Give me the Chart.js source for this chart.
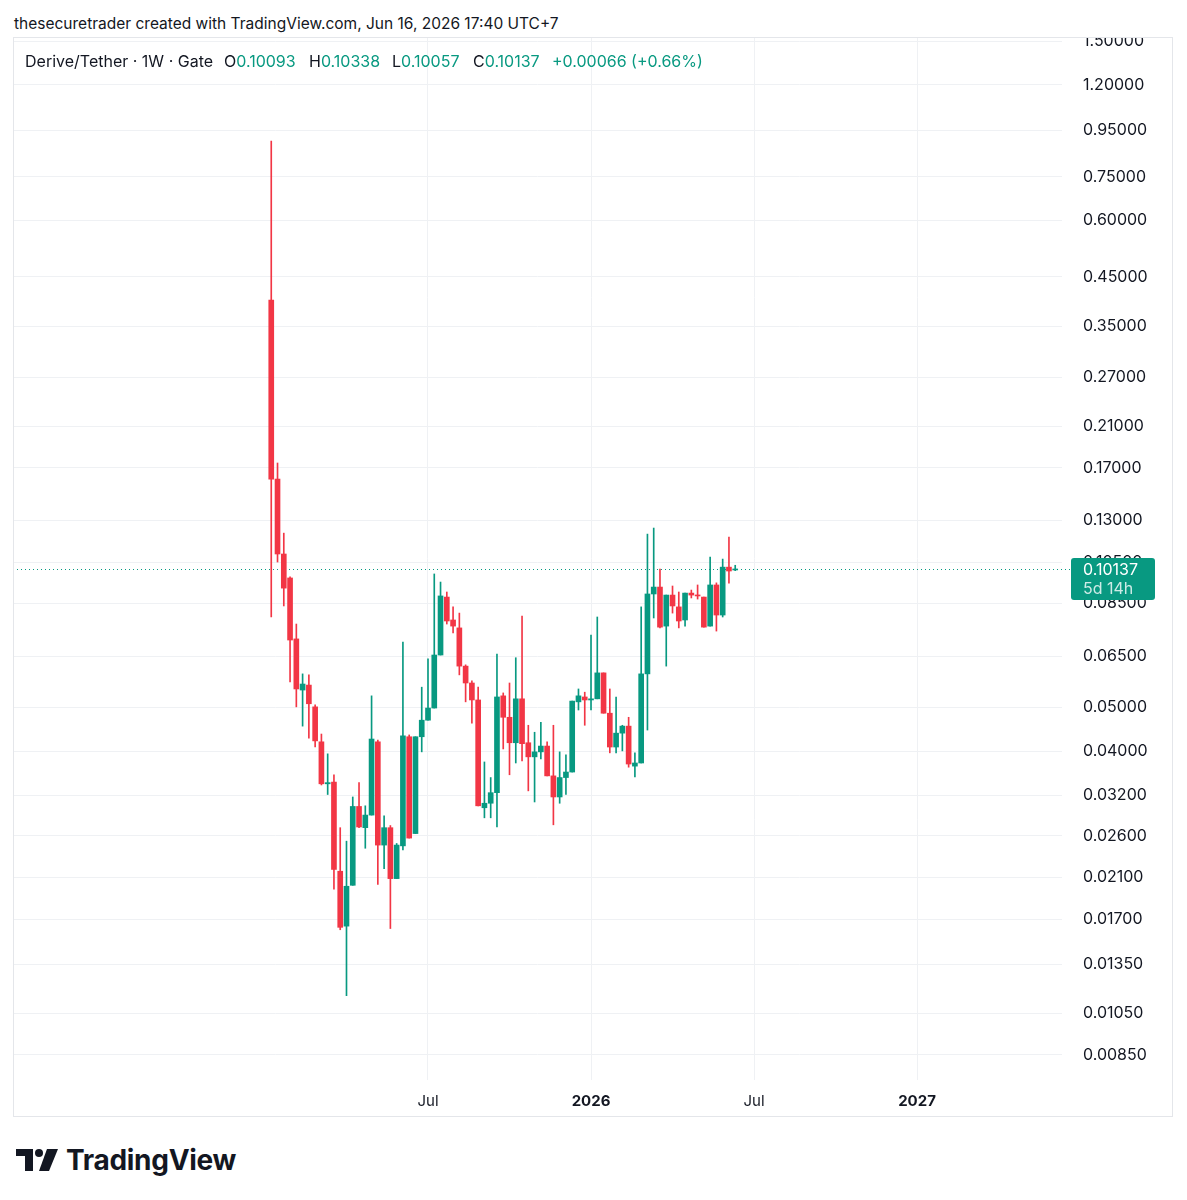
<!DOCTYPE html>
<html>
<head>
<meta charset="utf-8">
<script src="https://cdn.jsdelivr.net/npm/chart.js@4.4.0/dist/chart.umd.min.js"></script>
<style>
  body { margin: 0; background: #fff; width: 1187px; height: 1200px; position: relative; font-family: Inter, "Noto Sans", sans-serif; color: #131722; }
  .abs { position: absolute; white-space: nowrap; }
  #header { left: 14px; top: 13px; font-size: 15.5px; line-height: 22px; }
  #frame { left: 13px; top: 37px; width: 1160px; height: 1080px; box-sizing: border-box; border: 1px solid #e4e6ea; pointer-events: none; }
  #wrap { left: 13px; top: 37px; width: 1160px; height: 1080px; }
  .lg { top: 50px; font-size: 16px; line-height: 22px; }
  .g { color: #089981; }
  #brand { left: 66px; top: 1140px; font-size: 28px; font-weight: 700; line-height: 40px; letter-spacing: -0.3px; }
</style>
</head>
<body>
<div id="header" class="abs">thesecuretrader created with TradingView.com, Jun 16, 2026 17:40 UTC+7</div>
<div id="wrap" class="abs"><canvas id="c" width="1160" height="1080"></canvas></div>
<div id="frame" class="abs"></div>

<div class="abs lg" style="left:25px">Derive/Tether · 1W · Gate</div>
<div class="abs lg" style="left:224px">O<span class="g">0.10093</span></div>
<div class="abs lg" style="left:309px">H<span class="g">0.10338</span></div>
<div class="abs lg" style="left:392px">L<span class="g">0.10057</span></div>
<div class="abs lg" style="left:473px">C<span class="g">0.10137</span></div>
<div class="abs lg g" style="left:552px">+0.00066 (+0.66%)</div>

<svg class="abs" style="left:14px;top:1146px" width="46" height="28" viewBox="0 0 46 28">
  <path d="M2 3 H19 V25 H11 V10 H2 Z" fill="#131722"/>
  <circle cx="25" cy="7" r="4" fill="#131722"/>
  <path d="M33 3 H44 L35 25 H25 Z" fill="#131722"/>
</svg>
<div id="brand" class="abs">TradingView</div>

<script>
// weekly candles, Derive/Tether on Gate, week of Jan 13 2025 -> week of Jun 15 2026
const opens = [0.400, 0.1605, 0.1095, 0.0969, 0.0710, 0.0547, 0.0561, 0.0502, 0.0420, 0.0339,
  0.0342, 0.0217, 0.0164, 0.0202, 0.0302, 0.0271, 0.0289, 0.0420, 0.0248, 0.0271,
  0.0209, 0.0247, 0.0431, 0.0263, 0.0431, 0.0469, 0.0499, 0.0654, 0.0879, 0.0782,
  0.0751, 0.0618, 0.0567, 0.0520, 0.0300, 0.0307, 0.0324, 0.0531, 0.0476, 0.0418,
  0.0523, 0.0418, 0.0389, 0.0399, 0.0411, 0.0353, 0.0317, 0.0350, 0.0360, 0.0515,
  0.0528, 0.0520, 0.0523, 0.0597, 0.0486, 0.0409, 0.0439, 0.0455, 0.0371, 0.0377,
  0.0594, 0.0893, 0.0925, 0.0758, 0.0888, 0.0836, 0.0782, 0.0897, 0.0888, 0.0879,
  0.0758, 0.0935, 0.0802, 0.1024, 0.10093];
const highs = [0.900, 0.1742, 0.1218, 0.0974, 0.0766, 0.0594, 0.0591, 0.0507, 0.0437, 0.0395,
  0.0355, 0.0271, 0.0253, 0.0317, 0.0341, 0.0303, 0.0531, 0.0424, 0.0288, 0.0274,
  0.0250, 0.0699, 0.0435, 0.0431, 0.0555, 0.0641, 0.0989, 0.0949, 0.0902, 0.0836,
  0.0810, 0.0622, 0.0573, 0.0555, 0.0379, 0.0350, 0.0657, 0.0539, 0.0567, 0.0645,
  0.0798, 0.0457, 0.0441, 0.0464, 0.0420, 0.0457, 0.0399, 0.0393, 0.0517, 0.0550,
  0.0541, 0.0724, 0.0794, 0.0597, 0.0550, 0.0528, 0.0457, 0.0476, 0.0397, 0.0836,
  0.1212, 0.1250, 0.1014, 0.0888, 0.0930, 0.0902, 0.0897, 0.0911, 0.0935, 0.0879,
  0.1078, 0.0945, 0.1067, 0.1194, 0.10338];
const lows = [0.0794, 0.1051, 0.0840, 0.0570, 0.0502, 0.0455, 0.0428, 0.0409, 0.0337, 0.0321,
  0.0198, 0.0161, 0.0115, 0.0202, 0.0271, 0.0244, 0.0289, 0.0203, 0.0220, 0.0162,
  0.0209, 0.0242, 0.0257, 0.0263, 0.0399, 0.0469, 0.0499, 0.0654, 0.0766, 0.0732,
  0.0591, 0.0515, 0.0462, 0.0303, 0.0285, 0.0285, 0.0272, 0.0405, 0.0355, 0.0377,
  0.0381, 0.0327, 0.0309, 0.0385, 0.0353, 0.0275, 0.0307, 0.0321, 0.0360, 0.0494,
  0.0457, 0.0494, 0.0523, 0.0486, 0.0397, 0.0397, 0.0401, 0.0369, 0.0351, 0.0377,
  0.0446, 0.0790, 0.0751, 0.0618, 0.0810, 0.0751, 0.0758, 0.0875, 0.0870, 0.0754,
  0.0758, 0.0739, 0.0794, 0.0944, 0.10057];
const closes = [0.1605, 0.1095, 0.0920, 0.0706, 0.0550, 0.0564, 0.0510, 0.0422, 0.0339, 0.0341,
  0.0219, 0.0163, 0.0201, 0.0302, 0.0272, 0.0289, 0.0426, 0.0248, 0.0271, 0.0209,
  0.0248, 0.0433, 0.0257, 0.0431, 0.0469, 0.0499, 0.0654, 0.0884, 0.0778, 0.0758,
  0.0618, 0.0567, 0.0520, 0.0303, 0.0307, 0.0324, 0.0528, 0.0476, 0.0418, 0.0523,
  0.0416, 0.0389, 0.0399, 0.0411, 0.0353, 0.0317, 0.0350, 0.0360, 0.0517, 0.0531,
  0.0520, 0.0523, 0.0597, 0.0486, 0.0409, 0.0439, 0.0455, 0.0375, 0.0377, 0.0594,
  0.0893, 0.0925, 0.0754, 0.0888, 0.0840, 0.0778, 0.0897, 0.0888, 0.0884, 0.0754,
  0.0935, 0.0802, 0.1024, 0.1004, 0.10137];

// time axis: bar index of the first weekly bar in each labelled period
const xTickPos = [25, 51, 77, 103];
const xTickLabels = ['Jul', '2026', 'Jul', '2027'];
const xYearTicks = [51, 103];

const yTickVals = [1.5, 1.2, 0.95, 0.75, 0.6, 0.45, 0.35, 0.27, 0.21, 0.17, 0.13, 0.105,
  0.085, 0.065, 0.05, 0.04, 0.032, 0.026, 0.021, 0.017, 0.0135, 0.0105, 0.0085];

const lastClose = 0.10137;
const countdown = '5d 14h';

const UP = '#089981', DOWN = '#F23645';
const colors = opens.map((o, i) => closes[i] >= o ? UP : DOWN);

const priceLine = {
  id: 'priceLine',
  beforeDatasetsDraw(chart) {
    const { ctx, chartArea } = chart;
    const y = Math.round(chart.scales.y.getPixelForValue(lastClose)) + 0.5;
    ctx.save();
    ctx.strokeStyle = UP;
    ctx.lineWidth = 1;
    ctx.setLineDash([1, 3]);
    ctx.beginPath();
    ctx.moveTo(chartArea.left, y);
    ctx.lineTo(chartArea.right + 9, y);
    ctx.stroke();
    ctx.restore();
  },
  afterDraw(chart) {
    const { ctx, chartArea } = chart;
    const y = chart.scales.y.getPixelForValue(lastClose);
    const x0 = chartArea.right + 9;
    ctx.save();
    ctx.fillStyle = UP;
    ctx.beginPath();
    ctx.roundRect(x0, y - 11, 84, 42, 3);
    ctx.fill();
    ctx.font = '16px Inter, sans-serif';
    ctx.textBaseline = 'middle';
    ctx.fillStyle = '#ffffff';
    ctx.fillText(lastClose.toFixed(5), chartArea.right + 21, y + 1);
    ctx.fillStyle = 'rgba(255,255,255,0.8)';
    ctx.fillText(countdown, chartArea.right + 21, y + 20);
    ctx.restore();
  }
};

new Chart(document.getElementById('c'), {
  type: 'bar',
  data: {
    datasets: [
      {
        label: 'wick',
        data: lows.map((l, i) => ({ x: i, y: [l, highs[i]] })),
        backgroundColor: colors,
        barThickness: 1,
        grouped: false,
        order: 2
      },
      {
        label: 'body',
        data: opens.map((o, i) => ({ x: i, y: [o, closes[i]] })),
        backgroundColor: colors,
        barThickness: 5,
        minBarLength: 1,
        grouped: false,
        order: 1
      }
    ]
  },
  options: {
    responsive: false,
    animation: false,
    layout: { padding: 0 },
    plugins: { legend: { display: false }, tooltip: { enabled: false } },
    scales: {
      x: {
        type: 'linear',
        min: -41.19,
        max: 126.12,
        offset: false,
        border: { display: false },
        grid: { color: '#eff1f4', drawTicks: false, offset: false },
        afterBuildTicks(scale) { scale.ticks = xTickPos.map(v => ({ value: v })); },
        afterFit(scale) { scale.height = 37; scale.paddingLeft = 0; scale.paddingRight = 0; },
        ticks: {
          autoSkip: false,
          maxRotation: 0,
          padding: 12,
          color: '#131722',
          font: ctx => ({ family: 'Inter', size: 15, weight: (ctx.tick && xYearTicks.includes(ctx.tick.value)) ? 'bold' : 'normal' }),
          callback: v => xTickLabels[xTickPos.indexOf(v)]
        }
      },
      y: {
        type: 'logarithmic',
        position: 'right',
        min: 0.00748,
        max: 1.531,
        border: { display: false },
        grid: { color: '#eff1f4', drawTicks: false },
        afterBuildTicks(scale) { scale.ticks = yTickVals.map(v => ({ value: v })); },
        afterFit(scale) { scale.width = 111; scale.paddingTop = 0; scale.paddingBottom = 0; },
        ticks: {
          autoSkip: false,
          padding: 21,
          color: '#131722',
          font: { family: 'Inter', size: 16 },
          callback: v => Number(v).toFixed(5)
        }
      }
    }
  },
  plugins: [priceLine]
});
</script>
</body>
</html>
